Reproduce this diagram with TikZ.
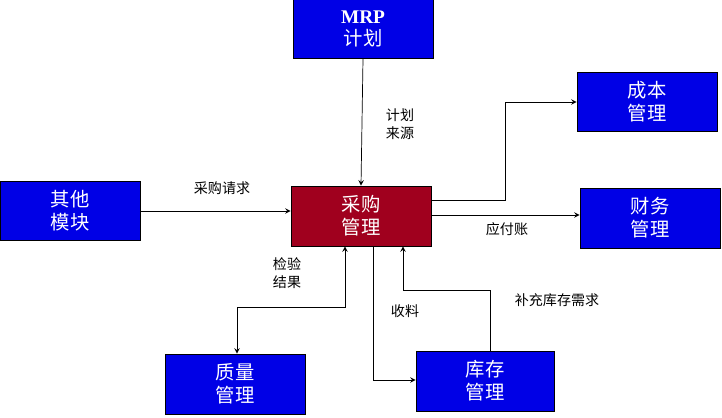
\documentclass[tikz,border=0pt]{standalone}
\usepackage{fontspec}
\setmainfont{Liberation Serif}
\newfontfamily\cjk{Noto Sans CJK SC}
\usetikzlibrary{positioning}
\definecolor{boxblue}{RGB}{0,0,230}
\definecolor{boxred}{RGB}{160,0,30}
\tikzset{
  box/.style={draw=black,fill=boxblue,text=white,minimum width=2.8cm,minimum height=1.17cm,
    align=center,inner sep=0pt,font=\fontsize{11pt}{13pt}\selectfont\cjk},
  lbl/.style={font=\fontsize{8pt}{10pt}\selectfont\cjk,align=center},
  line/.style={draw,thin},
  >=stealth
}
\begin{document}
\begin{tikzpicture}[x=0.02cm,y=-0.02cm]
\useasboundingbox (0,0) rectangle (722,418);
% boxes
\node[box] (mrp) at (363,29) {{\rmfamily\bfseries MRP}\\计划};
\node[box] (cost) at (647,102) {成本\\管理};
\node[box] (other) at (70,211) {其他\\模块};
\node[box,fill=boxred,minimum height=1.2cm] (buy) at (361,216) {采购\\管理};
\node[box,minimum height=1.2cm] (fin) at (650,218) {财务\\管理};
\node[box,minimum height=1.2cm] (qual) at (235,384) {质量\\管理};
\node[box,minimum width=2.76cm,minimum height=1.2cm] (stock) at (485,381) {库存\\管理};
% connectors
\coordinate (c1) at (505,200);
\coordinate (c2) at (345,307);
\coordinate (c3) at (237,307);
\coordinate (c4) at (373,380);
\coordinate (c5) at (490,290);
\coordinate (c6) at (403,290);
\draw[->] (mrp.south) -- (buy.north);
\draw[->] (other.east) -- (other.east -| buy.west);
\draw[->] (buy.east |- c1) -- (c1) |- (cost.west);
\draw[->] (buy.east |- 0,215) -- (fin.west |- 0,215);
\draw[<->] (buy.south -| c2) -- (c2) -- (c3) -- (qual.north -| c3);
\draw[->] (buy.south -| c4) -- (c4) -- (stock.west |- c4);
\draw[->] (stock.north -| c5) -- (c5) -- (c6) -- (buy.south -| c6);
% labels
\node[lbl] (l1) at (400,124) {计划\\来源};
\node[lbl] (l2) at (222,188) {采购请求};
\node[lbl] (l3) at (507,229) {应付账};
\node[lbl] (l4) at (287,273) {检验\\结果};
\node[lbl] (l5) at (405,311) {收料};
\node[lbl] (l6) at (557,300) {补充库存需求};
\end{tikzpicture}
\end{document}
